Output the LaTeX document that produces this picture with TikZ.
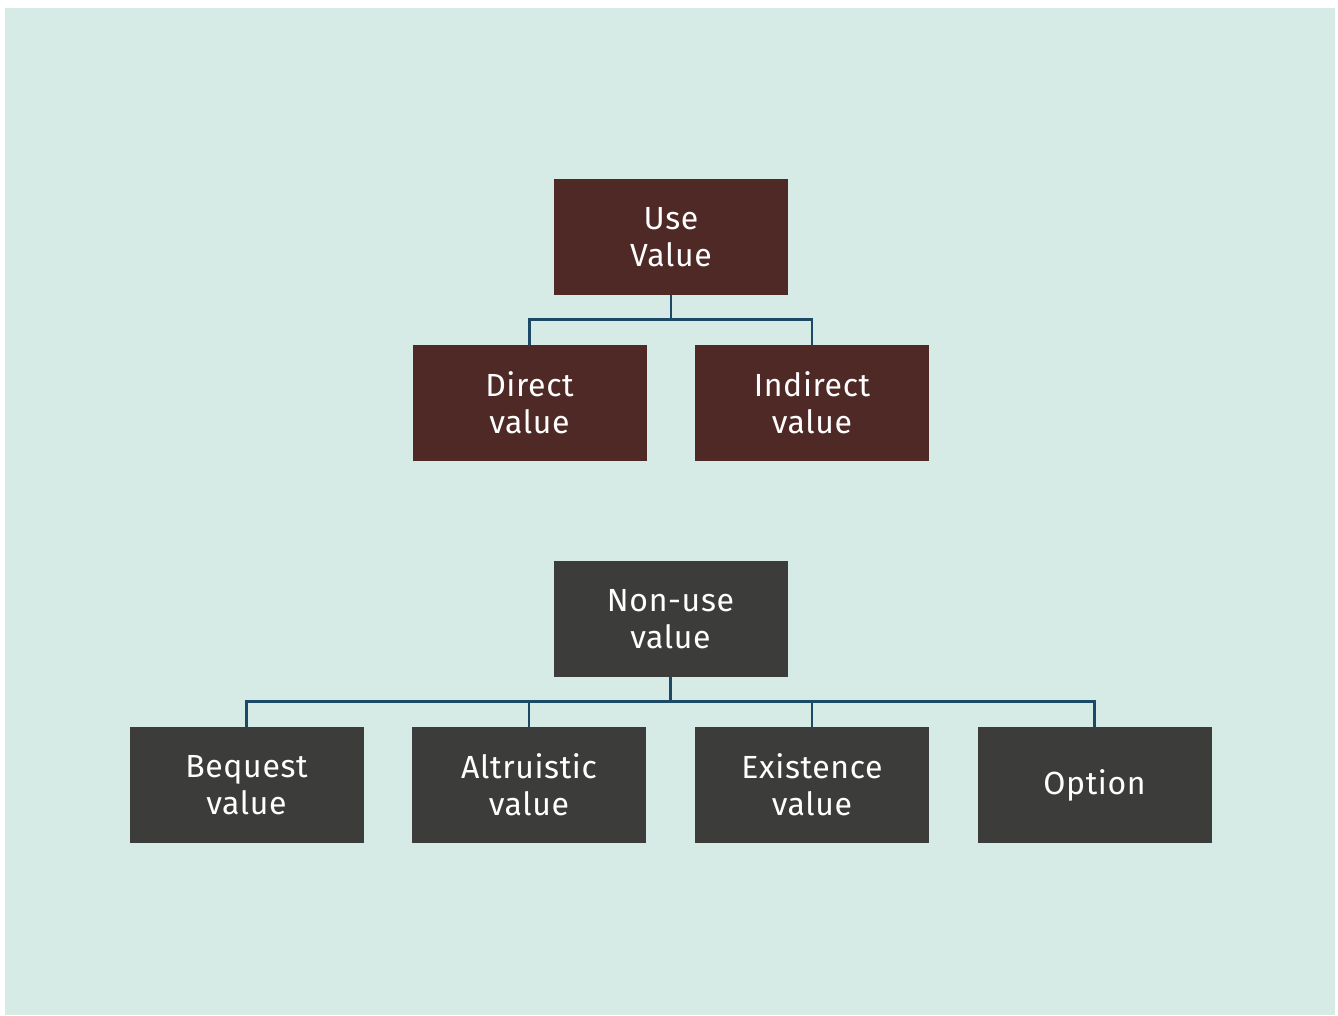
\documentclass[tikz,border=0pt]{standalone}
\usepackage{fontspec}
\setmainfont{Fira Sans}[LetterSpace=2]
\definecolor{bgteal}{HTML}{D6EAE6}
\definecolor{usebrown}{HTML}{4E2926}
\definecolor{nonusegray}{HTML}{3C3C3A}
\definecolor{linkblue}{HTML}{1C4A66}
\tikzset{
  box/.style={rectangle, minimum width=234pt, minimum height=116pt, inner sep=0pt,
    text=white, align=center, font=\fontsize{32}{37}\selectfont},
  usebox/.style={box, fill=usebrown},
  nonbox/.style={box, fill=nonusegray},
  link/.style={draw=linkblue, line width=2.6pt}
}
\begin{document}
\begin{tikzpicture}[x=1pt,y=-1pt]
\useasboundingbox (0,0) rectangle (1338,1015);
\fill[bgteal] (5,8) rectangle (1335,1015);
\node[usebox] (use) at (671,237) {Use\\Value};
\node[usebox] (direct) at (529.5,403) {Direct\\value};
\node[usebox] (indirect) at (812,403) {Indirect\\value};
\node[nonbox] (nonuse) at (670.5,619) {Non-use\\value};
\node[nonbox] (bequest) at (246.5,785) {Bequest\\value};
\node[nonbox] (altru) at (529,785) {Altruistic\\value};
\node[nonbox] (exist) at (812,785) {Existence\\value};
\node[nonbox] (option) at (1094.5,785) {Option};
\draw[link] (use.south) -- ++(0,24) -| (direct.north);
\draw[link] (use.south) ++(0,24) -| (indirect.north);
\draw[link] (nonuse.south) -- ++(0,24) -| (bequest.north);
\draw[link] (nonuse.south) ++(0,24) -| (altru.north);
\draw[link] (nonuse.south) ++(0,24) -| (exist.north);
\draw[link] (nonuse.south) ++(0,24) -| (option.north);
\end{tikzpicture}
\end{document}
